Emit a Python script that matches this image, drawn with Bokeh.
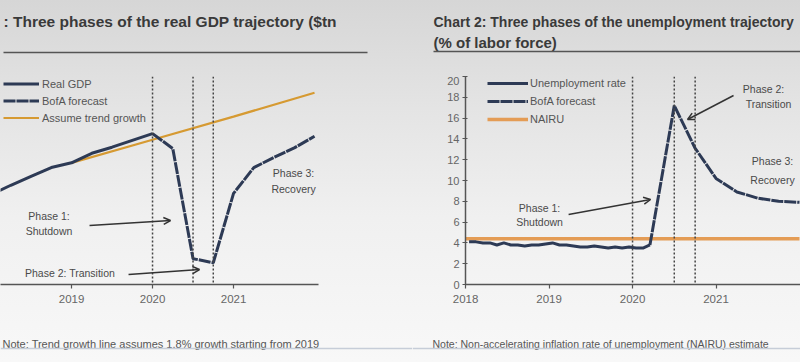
from bokeh.plotting import figure
from bokeh.layouts import row, column
from bokeh.models import (Range1d, FixedTicker, Legend, LegendItem, Span, Arrow,
                          OpenHead, InlineStyleSheet)
from bokeh.core.properties import value
from bokeh.embed import file_html
from bokeh.resources import INLINE
import pandas as pd

# ---------------- data ----------------
# Chart 1: real GDP ($tn), quarterly positions in decimal years
gdp_quarters = [2018.0, 2018.25, 2018.5, 2018.75, 2019.0, 2019.25, 2019.5, 2019.75, 2020.0]
gdp_actual = [18.35, 18.49, 18.62, 18.75, 18.82, 18.96, 19.05, 19.15, 19.25]
fc_quarters = [2020.0, 2020.25, 2020.5, 2020.75, 2021.0, 2021.25, 2021.5, 2021.75, 2022.0]
gdp_forecast = [19.25, 19.03, 17.41, 17.35, 18.37, 18.75, 18.90, 19.04, 19.21]
trend_years = [2019.0, 2020.0, 2021.0, 2022.0]
trend_gdp = [18.82, 19.16, 19.50, 19.85]

# Chart 2: unemployment rate (% of labor force)
unemp_months = ["2018-01", "2018-02", "2018-03", "2018-04", "2018-05", "2018-06",
                "2018-07", "2018-08", "2018-09", "2018-10", "2018-11", "2018-12",
                "2019-01", "2019-02", "2019-03", "2019-04", "2019-05", "2019-06",
                "2019-07", "2019-08", "2019-09", "2019-10", "2019-11", "2019-12",
                "2020-01", "2020-02", "2020-03"]
unemp_actual = [4.1, 4.1, 4.0, 4.0, 3.8, 4.0, 3.8, 3.8, 3.7, 3.8, 3.8, 3.9,
                4.0, 3.8, 3.8, 3.7, 3.6, 3.6, 3.7, 3.6, 3.5, 3.6, 3.5, 3.6,
                3.5, 3.5, 3.8]
unemp_fc_quarters = [2020.5, 2020.75, 2021.0, 2021.25, 2021.5, 2021.75, 2022.0]
unemp_forecast = [17.2, 13.1, 10.2, 8.9, 8.3, 8.0, 7.9]
nairu_years = [2018.0, 2022.0]
nairu = [4.4, 4.4]

phase_breaks = [2020.0, 2020.5, 2020.75]
gdp_year_ticks = [2019, 2020, 2021]
unemp_year_ticks = [2018, 2019, 2020, 2021]
unemp_y_ticks = [0, 2, 4, 6, 8, 10, 12, 14, 16, 18, 20]

# month strings -> decimal year (mid-month)
_m = pd.to_datetime(unemp_months)
unemp_x = [d.year + (d.month - 0.5) / 12 for d in _m]
unemp_fc_x = [unemp_x[-1]] + unemp_fc_quarters
unemp_fc_y = [unemp_actual[-1]] + unemp_forecast

# ---------------- styles ----------------
FONT = "Liberation Sans"
NAVY = "#2d3a55"
TREND = "#d69a32"
NAIRU_C = "#e49c55"
TXT = "#4a4a4a"
AX = "#555555"


def blank(w, h):
    p = figure(width=w, height=h, x_range=Range1d(0, w), y_range=Range1d(h, 0),
               output_backend="svg", toolbar_location=None, frame_align=False,
               x_axis_location=None, y_axis_location=None, min_border=0,
               outline_line_color=None, background_fill_alpha=0, border_fill_alpha=0)
    p.grid.visible = False
    return p


def style_axis(ax):
    ax.axis_line_color = AX
    ax.axis_line_width = 1.5
    ax.major_tick_line_color = AX
    ax.major_tick_line_width = 1.2
    ax.major_tick_out = 4
    ax.major_tick_in = 0
    ax.minor_tick_out = 0
    ax.minor_tick_in = 0
    ax.major_label_text_font = FONT
    ax.major_label_text_font_size = "11.5px"
    ax.major_label_text_color = "#666666"


def phase_text(p, xs, ys, labels):
    p.text(x=xs, y=ys, text=labels, text_font=value(FONT), text_font_size="10.5px",
           text_color=TXT, text_align="center", text_baseline="middle")


def arrow(p, x0, y0, x1, y1):
    p.add_layout(Arrow(x_start=x0, y_start=y0, x_end=x1, y_end=y1,
                       line_color="#333333", line_width=1.5,
                       end=OpenHead(size=7, line_color="#333333", line_width=1.5)))


def legend(p, items, loc, gw, gh, standoff):
    lg = Legend(items=items, location=loc, orientation="vertical",
                padding=0, margin=0, spacing=4, glyph_width=gw, glyph_height=gh,
                label_height=gh, label_standoff=standoff, border_line_color=None,
                background_fill_alpha=0, label_text_font=FONT,
                label_text_font_size="11px", label_text_color="#555555")
    p.add_layout(lg)


# ---------------- left panel ----------------
h1 = blank(412, 76)
h1.text(x=[3], y=[21], text=[": Three phases of the real GDP trajectory ($tn"],
        text_font=value(FONT), text_font_size="15.5px", text_font_style="bold",
        text_color="#3a3a3a", text_baseline="middle")
h1.segment(x0=[3], y0=[52], x1=[367], y1=[52], line_color="#555555", line_width=1.5)

p1 = figure(width=412, height=238, x_range=Range1d(2018.123, 2022.049),
            y_range=Range1d(17.03, 20.09), y_axis_location=None, frame_align=False,
            min_border_left=0, min_border_right=94, min_border_top=0, min_border_bottom=30,
            output_backend="svg", toolbar_location=None, outline_line_color=None,
            background_fill_alpha=0, border_fill_alpha=0)
p1.grid.visible = False
style_axis(p1.xaxis[0])
p1.xaxis[0].ticker = FixedTicker(ticks=gdp_year_ticks)
p1.xaxis[0].major_label_standoff = 6

for b in phase_breaks:
    p1.add_layout(Span(location=b, dimension="height", line_color="#444444",
                       line_width=1.5, line_dash="2 2"))

r_tr = p1.line(trend_years, trend_gdp, line_color=TREND, line_width=2.2)
r_fc = p1.line(fc_quarters, gdp_forecast, line_color=NAVY, line_width=3, line_dash="12 1")
r_ac = p1.line(gdp_quarters, gdp_actual, line_color=NAVY, line_width=3)

legend(p1, [LegendItem(label="Real GDP", renderers=[r_ac]),
            LegendItem(label="BofA forecast", renderers=[r_fc]),
            LegendItem(label="Assume trend growth", renderers=[r_tr])],
       (3, 160), 36, 13, 3)

phase_text(p1, [2018.722, 2018.722, 2018.981, 2021.741, 2021.741],
           [18.044, 17.824, 17.206, 18.676, 18.441],
           ["Phase 1:", "Shutdown", "Phase 2: Transition", "Phase 3:", "Recovery"])
arrow(p1, 2019.222, 17.897, 2020.222, 17.971)
arrow(p1, 2019.704, 17.176, 2020.580, 17.250)

f1 = blank(412, 48)
f1.text(x=[2], y=[29], text=["Note: Trend growth line assumes 1.8% growth starting from 2019"],
        text_font=value(FONT), text_font_size="11px", text_color="#555555",
        text_align="left", text_baseline="middle")
f1.segment(x0=[0], y0=[34], x1=[412], y1=[34], line_color="#c6cdd8", line_width=1.5)

# ---------------- right panel ----------------
h2 = blank(388, 76)
h2.text(x=[21], y=[21], text=["Chart 2: Three phases of the unemployment trajectory"],
        text_font=value(FONT), text_font_size="14px", text_font_style="bold",
        text_color="#3a3a3a", text_baseline="middle")
h2.text(x=[21], y=[42], text=["(% of labor force)"],
        text_font=value(FONT), text_font_size="15px", text_font_style="bold",
        text_color="#3a3a3a", text_baseline="middle")
h2.segment(x0=[21], y0=[51], x1=[388], y1=[51], line_color="#555555", line_width=1.5)

p2 = figure(width=388, height=238, x_range=Range1d(2017.999, 2022.012),
            y_range=Range1d(0, 20.001), frame_align=False,
            min_border_left=53, min_border_right=0, min_border_top=0, min_border_bottom=30,
            output_backend="svg", toolbar_location=None, outline_line_color=None,
            background_fill_alpha=0, border_fill_alpha=0)
p2.grid.visible = False
style_axis(p2.xaxis[0])
style_axis(p2.yaxis[0])
p2.xaxis[0].ticker = FixedTicker(ticks=unemp_year_ticks)
p2.xaxis[0].major_label_standoff = 6
p2.yaxis[0].ticker = FixedTicker(ticks=unemp_y_ticks)
p2.yaxis[0].major_tick_in = 2
p2.yaxis[0].major_tick_out = 3
p2.yaxis[0].major_label_standoff = 3
p2.yaxis[0].major_label_text_font_size = "11px"

for b in phase_breaks:
    p2.add_layout(Span(location=b, dimension="height", line_color="#444444",
                       line_width=1.5, line_dash="2 2"))

r_na = p2.line(nairu_years, nairu, line_color=NAIRU_C, line_width=3.5)
r_ufc = p2.line(unemp_fc_x, unemp_fc_y, line_color=NAVY, line_width=3, line_dash="12 1")
r_uac = p2.line(unemp_x, unemp_actual, line_color=NAVY, line_width=3)

legend(p2, [LegendItem(label="Unemployment rate", renderers=[r_uac]),
            LegendItem(label="BofA forecast", renderers=[r_ufc]),
            LegendItem(label="NAIRU", renderers=[r_na])],
       (22, 158), 41, 14, 2)

phase_text(p2, [2018.886, 2018.886, 2021.569, 2021.629, 2021.677, 2021.677],
           [7.404, 5.962, 18.846, 17.404, 11.923, 10.096],
           ["Phase 1:", "Shutdown", "Phase 2:", "Transition", "Phase 3:", "Recovery"])
arrow(p2, 2019.234, 6.731, 2020.216, 8.173)
arrow(p2, 2021.210, 18.173, 2020.659, 15.865)

f2 = blank(388, 48)
f2.text(x=[20], y=[29],
        text=["Note: Non-accelerating inflation rate of unemployment (NAIRU) estimate"],
        text_font=value(FONT), text_font_size="10.5px", text_color="#555555",
        text_align="left", text_baseline="middle")
f2.segment(x0=[0], y0=[34], x1=[388], y1=[34], line_color="#c6cdd8", line_width=1.5)

bg = InlineStyleSheet(css=":host { background: linear-gradient(180deg, #d6d6d6 0%, "
                          "#e4e4e4 30%, #f0f0f0 60%, #f8f8f8 100%) !important; }")
layout = row(column(h1, p1, f1, spacing=0), column(h2, p2, f2, spacing=0), spacing=0,
             stylesheets=[bg])

open("out.html", "w").write(file_html(layout, INLINE))
